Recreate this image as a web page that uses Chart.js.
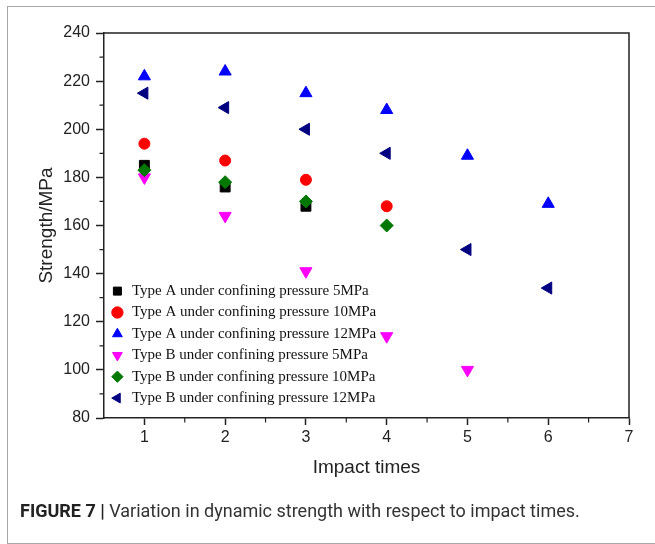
<!DOCTYPE html>
<html>
<head>
<meta charset="utf-8">
<script src="https://cdn.jsdelivr.net/npm/chart.js@4"></script>
<style>
    html, body { margin: 0; padding: 0; background: #fff; overflow: hidden; }
    #wrap { position: relative; width: 655px; height: 544px; }
    #frame {
        position: absolute; left: 7px; top: 6px; width: 680px; height: 538px;
        border: 1.5px solid #a8a8a8; box-sizing: border-box;
    }
    #chart { position: absolute; left: 0; top: 0; }
    #caption {
        position: absolute; left: 20px; top: 500px;
        font-family: Roboto, "Liberation Sans", sans-serif; font-size: 18px; color: #333;
        white-space: nowrap;
    }
    #caption b { color: #222; }
</style>
</head>
<body>
<div id="wrap">
    <div id="frame"></div>
    <canvas id="chart" width="655" height="544"></canvas>
    <div id="caption"><b>FIGURE 7 |</b> Variation in dynamic strength with respect to impact times.</div>
</div>
<script>
// Impact times on the x axis
const impacts = [1, 2, 3, 4, 5, 6];

// Strength (MPa) per series, one value per impact
const typeA5 = [185, 176, 168];
const typeA10 = [194, 187, 179, 168];
const typeA12 = [222, 224, 215, 208, 189, 169];
const typeB5 = [180, 164, 141, 114, 100];
const typeB10 = [183, 178, 170, 160];
const typeB12 = [215, 209, 200, 190, 150, 134];

const xTicks = [1, 2, 3, 4, 5, 6, 7];
const yTicks = [80, 100, 120, 140, 160, 180, 200, 220, 240];
const xMinor = [1.5, 2.5, 3.5, 4.5, 5.5, 6.5];
const yMinor = [90, 110, 130, 150, 170, 190, 210, 230];

function toPoints(values) {
    return values.map((v, i) => ({ x: impacts[i], y: v }));
}

// Box around the plot plus the small minor ticks
const frameAndMinor = {
    id: 'frameAndMinor',
    afterLayout(chart) {
        // sit the legend a bit lower, near the bottom axis
        chart.legend.top += 27;
        chart.legend.bottom += 27;
    },
    afterDatasetsDraw(chart) {
        const { ctx, chartArea: a, scales } = chart;
        ctx.save();
        ctx.strokeStyle = '#222';
        ctx.lineWidth = 1.5;
        ctx.beginPath();
        ctx.moveTo(a.left, a.top);
        ctx.lineTo(a.right, a.top);
        ctx.lineTo(a.right, a.bottom);
        ctx.stroke();

        ctx.lineWidth = 1.2;
        ctx.beginPath();
        yMinor.forEach(v => {
            const y = scales.y.getPixelForValue(v);
            ctx.moveTo(a.left - 4.5, y);
            ctx.lineTo(a.left, y);
        });
        xMinor.forEach(v => {
            const x = scales.x.getPixelForValue(v);
            ctx.moveTo(x, a.bottom);
            ctx.lineTo(x, a.bottom + 4.5);
        });
        ctx.stroke();
        ctx.restore();
    }
};

const tickFont = { family: '"Liberation Sans", Arial, sans-serif', size: 16 };
const titleFont = { family: '"Liberation Sans", Arial, sans-serif', size: 19 };

const ctx = document.getElementById('chart').getContext('2d');

new Chart(ctx, {
    type: 'scatter',
    data: {
        datasets: [
            {
                label: 'Type A under confining pressure 5MPa',
                data: toPoints(typeA5),
                pointStyle: 'rect',
                pointRadius: 7,
                backgroundColor: '#000000',
                borderColor: '#000000'
            },
            {
                label: 'Type A under confining pressure 10MPa',
                data: toPoints(typeA10),
                pointStyle: 'circle',
                pointRadius: 5.5,
                backgroundColor: '#ff0000',
                borderColor: '#ff0000'
            },
            {
                label: 'Type A under confining pressure 12MPa',
                data: toPoints(typeA12),
                pointStyle: 'triangle',
                pointRadius: 7,
                backgroundColor: '#0000ff',
                borderColor: '#0000ff'
            },
            {
                label: 'Type B under confining pressure 5MPa',
                data: toPoints(typeB5),
                pointStyle: 'triangle',
                pointRotation: 180,
                pointRadius: 7,
                backgroundColor: '#ff00ff',
                borderColor: '#ff00ff'
            },
            {
                label: 'Type B under confining pressure 10MPa',
                data: toPoints(typeB10),
                pointStyle: 'rectRot',
                pointRadius: 6.5,
                backgroundColor: '#007800',
                borderColor: '#007800',
                order: -1
            },
            {
                label: 'Type B under confining pressure 12MPa',
                data: toPoints(typeB12),
                pointStyle: 'triangle',
                pointRotation: -90,
                pointRadius: 7,
                backgroundColor: '#000080',
                borderColor: '#000080'
            }
        ]
    },
    options: {
        responsive: false,
        animation: false,
        layout: {
            padding: { left: 35, top: 33, right: 26, bottom: 65 }
        },
        plugins: {
            tooltip: { enabled: false },
            legend: {
                display: true,
                position: 'chartArea',
                align: 'end',
                labels: {
                    usePointStyle: true,
                    boxWidth: 14,
                    boxHeight: 8,
                    padding: 6.4,
                    color: '#111',
                    font: { family: '"Liberation Serif", "Times New Roman", serif', size: 15 },
                    sort: (a, b) => a.datasetIndex - b.datasetIndex
                }
            }
        },
        scales: {
            x: {
                type: 'linear',
                min: 0.5,
                max: 7,
                afterBuildTicks: scale => { scale.ticks = xTicks.map(v => ({ value: v })); },
                afterFit: scale => { scale.height = 61; },
                grid: { drawOnChartArea: false, drawTicks: true, tickLength: 7, tickColor: '#222', tickWidth: 1.5 },
                border: { display: true, color: '#222', width: 1.5 },
                ticks: { color: '#222', font: tickFont, padding: 3, maxRotation: 0 },
                title: { display: true, text: 'Impact times', color: '#222', font: titleFont, padding: 0 }
            },
            y: {
                type: 'linear',
                min: 80,
                max: 240,
                afterBuildTicks: scale => { scale.ticks = yTicks.map(v => ({ value: v })); },
                afterFit: scale => { scale.width = 69; },
                grid: { drawOnChartArea: false, drawTicks: true, tickLength: 8, tickColor: '#222', tickWidth: 1.5 },
                border: { display: true, color: '#222', width: 1.5 },
                ticks: { color: '#222', font: tickFont, padding: 6 },
                title: { display: true, text: 'Strength/MPa', color: '#222', font: titleFont, padding: 0 }
            }
        }
    },
    plugins: [frameAndMinor]
});
</script>
</body>
</html>
